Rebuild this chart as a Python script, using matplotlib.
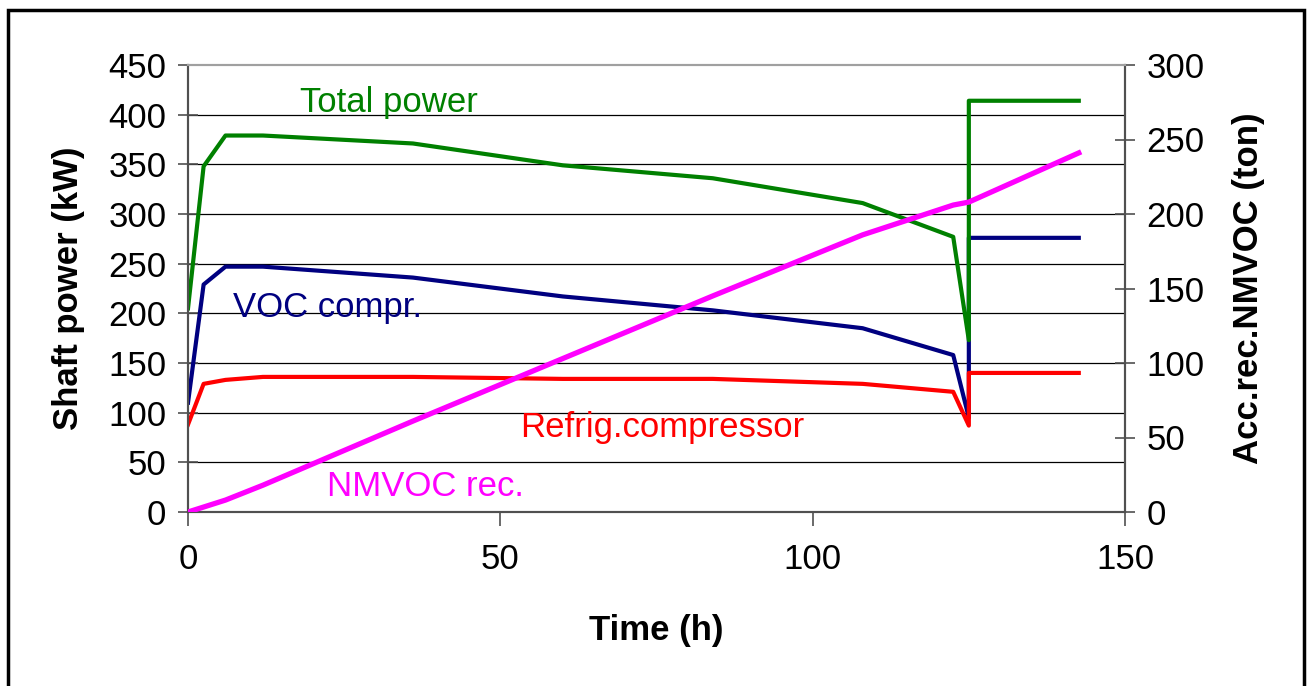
import numpy as np
import matplotlib.pyplot as plt
from matplotlib.patches import Rectangle

plt.rcParams['font.family'] = ['Liberation Sans', 'DejaVu Sans']

# temps (h) et puissances (kW)
temps = [0, 2.5, 6, 12, 36, 60, 84, 108, 122.5, 125, 125, 142.6]
total_power = [205, 348, 379, 379, 371, 349, 336, 311, 277, 173, 414, 414]
voc_compr = [110, 229, 247, 247, 236, 217, 203, 185, 158, 95, 276, 276]
refrig_compr = [88, 129, 133, 136, 136, 134, 134, 129, 121, 87, 140, 140]

# recuperation cumulee NMVOC (ton)
temps_nmvoc = [0, 6, 12, 36, 60, 84, 108, 122.5, 125, 142.6]
nmvoc_rec = [0, 8, 18, 61, 103, 145, 186, 206, 208, 241]

x_ticks = [0, 50, 100, 150]
y_ticks = [0, 50, 100, 150, 200, 250, 300, 350, 400, 450]
y2_ticks = [0, 50, 100, 150, 200, 250, 300]

fig = plt.figure(figsize=(13.09, 6.86), dpi=100)
ax = fig.add_axes([188 / 1309, 1 - 512 / 686, (1125 - 188) / 1309, (512 - 65) / 686])

# cadre exterieur
fig.patches.append(Rectangle((8 / 1309, -0.1), (1304 - 8) / 1309, 1.1 - 10 / 686,
                             transform=fig.transFigure, fill=False, edgecolor='black', linewidth=2.5))

for y in y_ticks[1:-1]:
    ax.axhline(y, color='black', linewidth=0.9, zorder=1)

ax.plot(temps, voc_compr, color='#000080', linewidth=3, zorder=3)
ax.plot(temps, refrig_compr, color='#FF0000', linewidth=3, zorder=4)
ax.plot(temps, total_power, color='#008000', linewidth=3, zorder=5)

ax.set_xlim(0, 150)
ax.set_ylim(0, 450)
ax.set_xticks(x_ticks)
ax.set_yticks(y_ticks)

ax2 = ax.twinx()
ax2.plot(temps_nmvoc, nmvoc_rec, color='#FF00FF', linewidth=3.8, zorder=6)
ax2.set_ylim(0, 300)
ax2.set_yticks(y2_ticks)

for a in (ax, ax2):
    a.spines['top'].set_color('#a0a0a0')
    a.spines['left'].set_color('#505050')
    a.spines['right'].set_color('#505050')
    a.spines['bottom'].set_color('#505050')
    for s in a.spines.values():
        s.set_linewidth(1.5)

ax.tick_params(axis='y', direction='inout', length=15, width=1.2, color='#505050', pad=8, labelsize=25)
ax.tick_params(axis='x', direction='out', length=10, width=1.2, color='#505050', pad=12, labelsize=25)
ax2.tick_params(axis='y', direction='inout', length=15, width=1.2, color='#505050', pad=8, labelsize=25)

ax.set_xlabel('Time (h)', fontsize=25, fontweight='bold', labelpad=28)
ax.set_ylabel('Shaft power (kW)', fontsize=25, fontweight='bold', labelpad=17)
ax2.set_ylabel('Acc.rec.NMVOC (ton)', fontsize=25, fontweight='bold', labelpad=20)

ax.text(17.9, 412, 'Total power', color='#008000', fontsize=25, va='center', ha='left')
ax.text(7.2, 206, 'VOC compr.', color='#000080', fontsize=25, va='center', ha='left')
ax.text(53.1, 85, 'Refrig.compressor', color='#FF0000', fontsize=25, va='center', ha='left')
ax.text(22.2, 26, 'NMVOC rec.', color='#FF00FF', fontsize=25, va='center', ha='left')

fig.savefig('out.png', dpi=100)
